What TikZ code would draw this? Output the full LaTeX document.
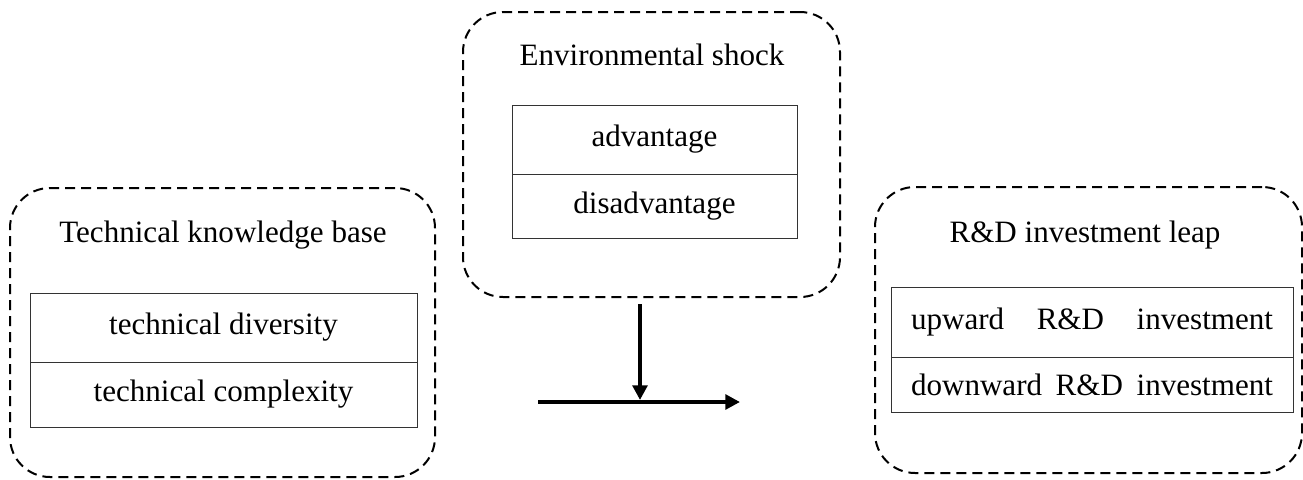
\documentclass[tikz,border=0pt]{standalone}
\usepackage{fontspec}
\setmainfont{Liberation Serif}
\usetikzlibrary{arrows.meta}
\usetikzlibrary{positioning}

\begin{document}
\begin{tikzpicture}[x=0.75pt,y=-0.75pt]
\tikzstyle{group}=[rectangle,rounded corners=30pt,draw,dash pattern=on 7.5pt off 4.5pt,
line width=1.5pt,inner sep=0pt]
\tikzstyle{title}=[inner sep=0pt,font=\fontsize{23.3}{28}\selectfont]
\tikzstyle{item}=[rectangle,draw=black!80,line width=0.75pt,inner sep=0pt,outer sep=0pt,
font=\fontsize{23.3}{28}\selectfont]
\tikzstyle{flow}=[line width=3pt,-{Triangle[length=11pt,width=11pt]}]
\useasboundingbox (0,0) rectangle (1303,479);
% left group
\node[group,minimum width=318.75pt,minimum height=216.75pt] (knowledge) at (222.5,332.5) {};
\node[title] (knowledge title) at (223,235) {Technical knowledge base};
\node[item,minimum width=290.25pt,minimum height=51.75pt] (diversity) at (223.5,327.5) {technical diversity};
\node[item,minimum width=290.25pt,minimum height=48.75pt] (complexity) [below=0pt of diversity] {technical complexity};
% middle group
\node[group,minimum width=282.75pt,minimum height=213.75pt] (shock) at (651.5,154.5) {};
\node[title] (shock title) at (652,55) {Environmental shock};
\node[item,minimum width=213.75pt,minimum height=51.75pt] (advantage) at (654.5,139.5) {advantage};
\node[item,minimum width=213.75pt,minimum height=48pt] (disadvantage) [below=0pt of advantage] {disadvantage};
% right group
\node[group,minimum width=320.25pt,minimum height=214.5pt] (leap) at (1088.5,330) {};
\node[title] (leap title) at (1085,235) {R\&D investment leap};
\node[item,minimum width=301.5pt,minimum height=52.5pt] (upward) at (1092,322)
{\makebox[271.5pt]{upward\hfill R\&D\hfill investment}};
\node[item,minimum width=301.5pt,minimum height=41.25pt] (downward) [below=0pt of upward]
{\makebox[271.5pt]{downward\hfill R\&D\hfill investment}};
% arrows
\coordinate (flow start) at (538,402);
\coordinate (flow end) at (740,402);
\coordinate (cross) at (640,402);
\draw[flow] (flow start) -- (flow end);
\draw[flow,shorten <=4.5pt,shorten >=1.5pt] (shock.south -| cross) -- (cross);
\end{tikzpicture}
\end{document}
